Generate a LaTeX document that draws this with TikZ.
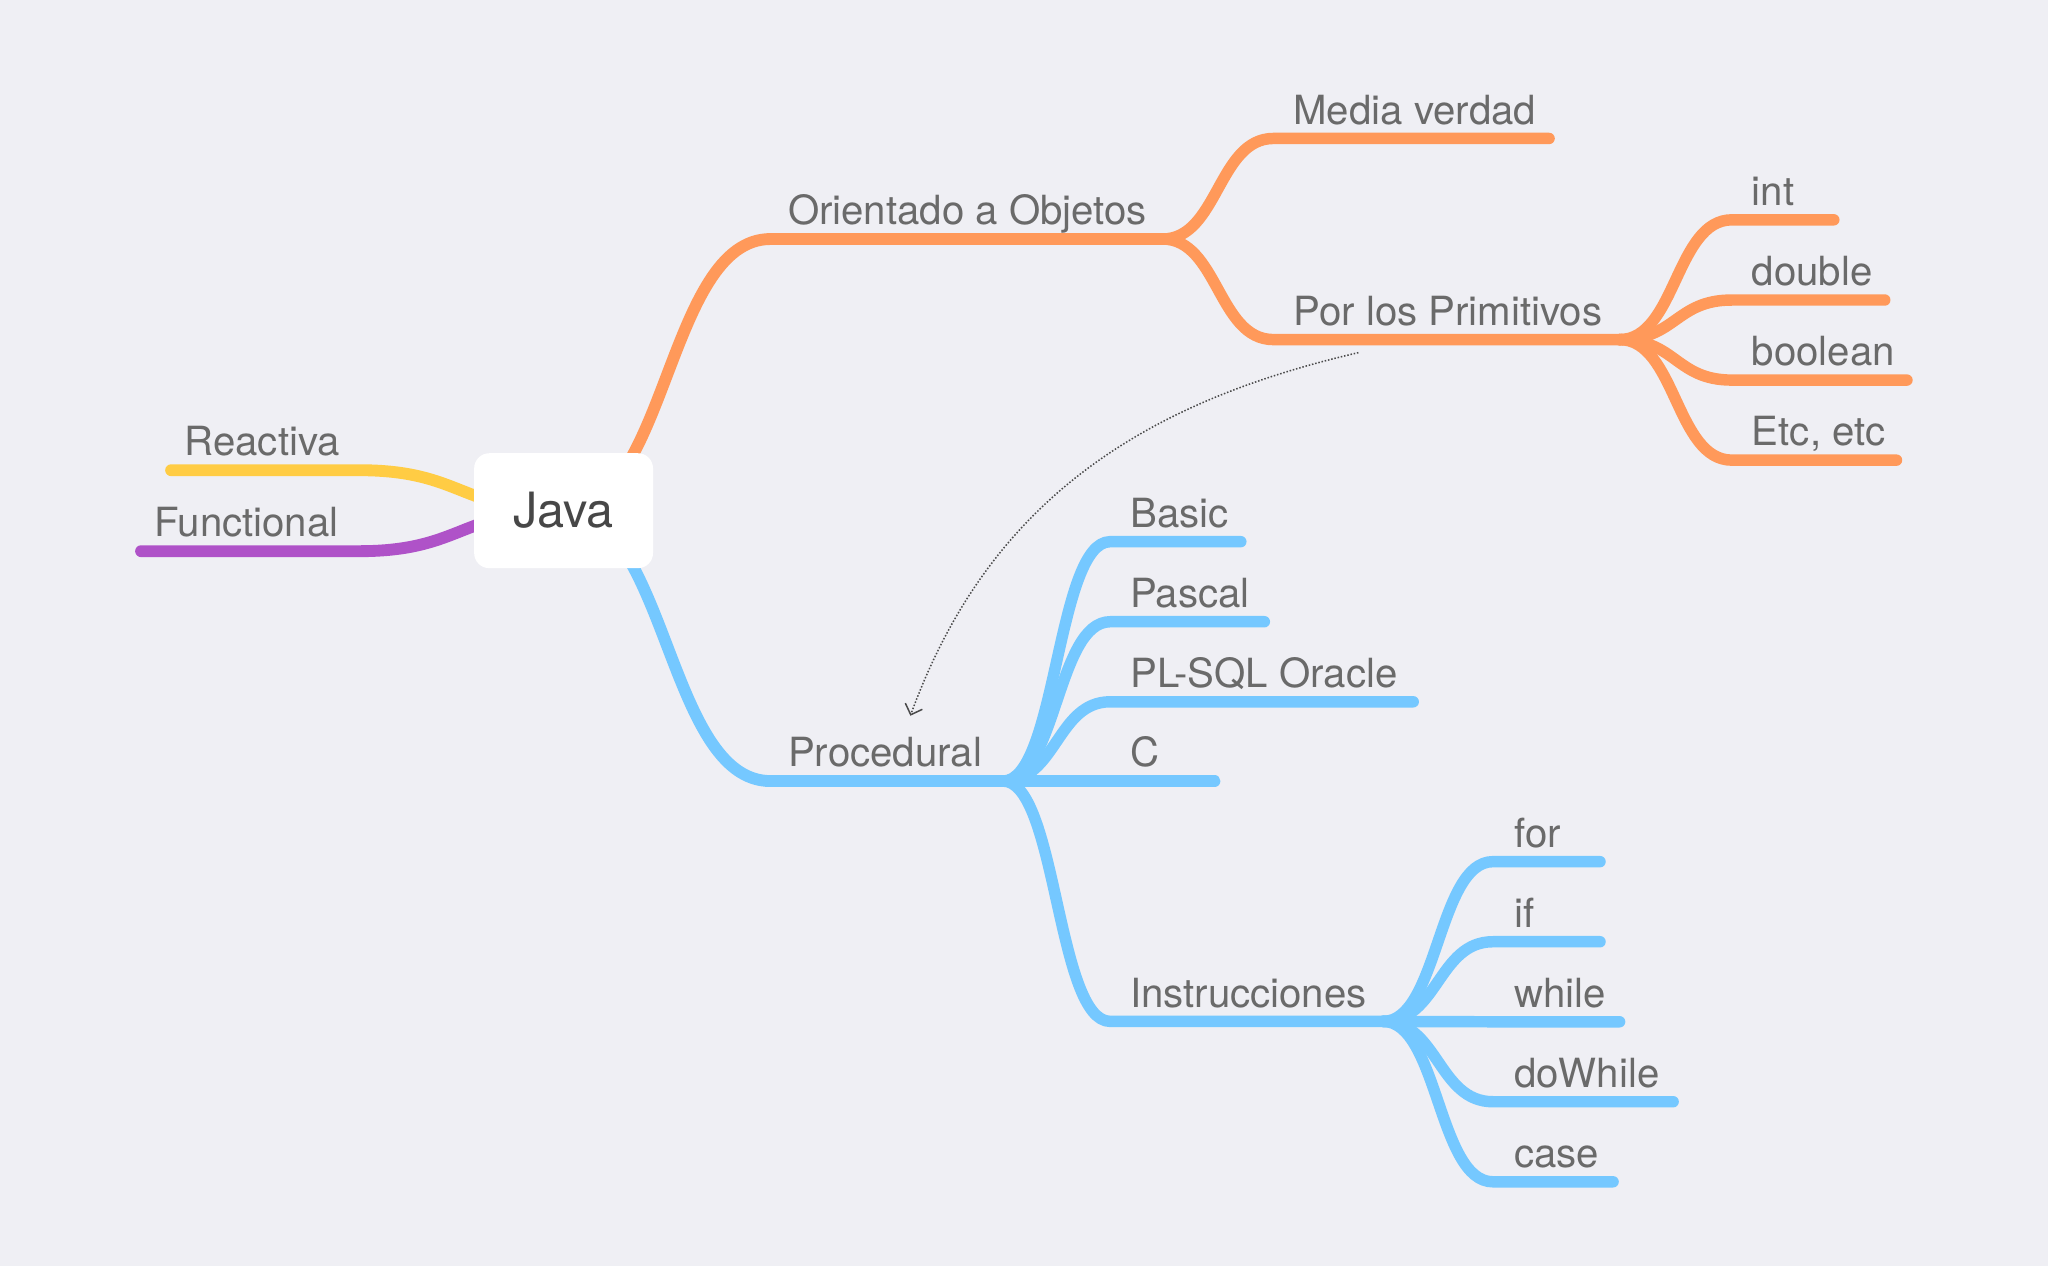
\documentclass[tikz,border=0pt]{standalone}
\usepackage{fontspec}
\setmainfont{TeX Gyre Heros}
\usetikzlibrary{arrows.meta}
\definecolor{bgc}{HTML}{EFEFF4}
\definecolor{orangeb}{HTML}{FF995A}
\definecolor{blueb}{HTML}{75C8FF}
\definecolor{yellowb}{HTML}{FFCC44}
\definecolor{purpleb}{HTML}{AF52C8}
\definecolor{lblc}{HTML}{6A6A6A}
\definecolor{jtxt}{HTML}{474747}
\definecolor{arrc}{HTML}{4A4A4A}
\begin{document}
\begin{tikzpicture}[x=0.65pt,y=-0.65pt,
  br/.style={line width=5.7pt,line cap=round,line join=round},
  mainbr/.style={br,line width=5.9pt},
  lab/.style={anchor=base west,inner sep=0pt,text=lblc,font=\fontsize{20pt}{24pt}\selectfont},
  jbox/.style={fill=white,rounded corners=7.5pt,minimum width=89pt,minimum height=57.2pt,inner sep=0pt,text=jtxt,font=\fontsize{24.2pt}{28pt}\selectfont},
  dotarrow/.style={draw=arrc,line width=0.75pt,dash pattern=on 0.75pt off 0.9pt,-{Straight Barb[length=4.5pt,width=9pt,line width=0.75pt]}}
]
\fill[bgc] (0,0) rectangle (1568,969);
\useasboundingbox (0,0) rectangle (1568,969);

% coordinates
\coordinate (J) at (431.5,391);
% orange
\coordinate (ooS) at (590,183);
\coordinate (ooF) at (890,183);
\coordinate (mvS) at (975,106);
\coordinate (mvE) at (1186,106);
\coordinate (ppS) at (975,260);
\coordinate (ppF) at (1240,260);
\coordinate (intS) at (1326,168.3);
\coordinate (intE) at (1404,168.3);
\coordinate (dblS) at (1326,229.7);
\coordinate (dblE) at (1443,229.7);
\coordinate (booS) at (1326,291);
\coordinate (booE) at (1460,291);
\coordinate (etcS) at (1326,352.3);
\coordinate (etcE) at (1452,352.3);
% blue
\coordinate (prS) at (590,598);
\coordinate (prF) at (768,598);
\coordinate (basS) at (850,414.7);
\coordinate (basE) at (950,414.7);
\coordinate (pasS) at (850,476);
\coordinate (pasE) at (968,476);
\coordinate (plsS) at (850,537.3);
\coordinate (plsE) at (1082,537.3);
\coordinate (cE) at (930,598);
\coordinate (insS) at (850,782);
\coordinate (insF) at (1059,782);
\coordinate (forS) at (1143,659.7);
\coordinate (forE) at (1225,659.7);
\coordinate (ifS) at (1143,721);
\coordinate (ifE) at (1225,721);
\coordinate (whS) at (1143,782.3);
\coordinate (whE) at (1240,782.3);
\coordinate (dwS) at (1143,843.5);
\coordinate (dwE) at (1281,843.5);
\coordinate (caS) at (1143,904.8);
\coordinate (caE) at (1235,904.8);
% left
\coordinate (reS) at (275,360);
\coordinate (reE) at (131,360);
\coordinate (fuS) at (275,422);
\coordinate (fuE) at (108,422);
% dotted arrow ends
\coordinate (arrS) at (1040,270);
\coordinate (arrE) at (697,548);

% left branches
\draw[mainbr,yellowb] (J) to[out=180,in=0,distance=50.9pt] (reS) -- (reE);
\draw[mainbr,purpleb] (J) to[out=180,in=0,distance=50.9pt] (fuS) -- (fuE);

% orange branch
\draw[mainbr,orangeb] (J) to[out=0,in=180,distance=51.5pt] (ooS) -- (ooF);
\draw[br,orangeb] (ooF) to[out=0,in=180,distance=27.6pt] (mvS) -- (mvE);
\draw[br,orangeb] (ooF) to[out=0,in=180,distance=27.6pt] (ppS) -- (ppF);
\draw[br,orangeb] (ppF) to[out=0,in=180,distance=28pt] (intS) -- (intE);
\draw[br,orangeb] (ppF) to[out=0,in=180,distance=28pt] (dblS) -- (dblE);
\draw[br,orangeb] (ppF) to[out=0,in=180,distance=28pt] (booS) -- (booE);
\draw[br,orangeb] (ppF) to[out=0,in=180,distance=28pt] (etcS) -- (etcE);

% blue branch
\draw[mainbr,blueb] (J) to[out=0,in=180,distance=51.5pt] (prS) -- (prF);
\draw[br,blueb] (prF) to[out=0,in=180,distance=26.6pt] (basS) -- (basE);
\draw[br,blueb] (prF) to[out=0,in=180,distance=26.6pt] (pasS) -- (pasE);
\draw[br,blueb] (prF) to[out=0,in=180,distance=26.6pt] (plsS) -- (plsE);
\draw[br,blueb] (prF) -- (cE);
\draw[br,blueb] (prF) to[out=0,in=180,distance=26.6pt] (insS) -- (insF);
\draw[br,blueb] (insF) to[out=0,in=180,distance=27.3pt] (forS) -- (forE);
\draw[br,blueb] (insF) to[out=0,in=180,distance=27.3pt] (ifS) -- (ifE);
\draw[br,blueb] (insF) to[out=0,in=180,distance=27.3pt] (whS) -- (whE);
\draw[br,blueb] (insF) to[out=0,in=180,distance=27.3pt] (dwS) -- (dwE);
\draw[br,blueb] (insF) to[out=0,in=180,distance=27.3pt] (caS) -- (caE);

% central node
\node[jbox] (java) at (J) {Java};

% labels
\node[lab] (tRe) at (141,349) {Reactiva};
\node[lab] (tFu) at (118,411) {Functional};
\node[lab] (tOO) at (603,172) {Orientado a Objetos};
\node[lab] (tMV) at (990,95) {Media verdad};
\node[lab] (tPP) at (990,249) {Por los Primitivos};
\node[lab] (tInt) at (1341,157.5) {int};
\node[lab] (tDbl) at (1341,218.7) {double};
\node[lab] (tBoo) at (1341,280) {boolean};
\node[lab] (tEtc) at (1341,341.3) {Etc, etc};
\node[lab] (tPr) at (603,587) {Procedural};
\node[lab] (tBas) at (865,403.7) {Basic};
\node[lab] (tPas) at (865,465) {Pascal};
\node[lab] (tPls) at (865,526.3) {PL-SQL Oracle};
\node[lab] (tC) at (865,587) {C};
\node[lab] (tIns) at (865,771) {Instrucciones};
\node[lab] (tFor) at (1159,648.7) {for};
\node[lab] (tIf) at (1159,710) {if};
\node[lab] (tWh) at (1159,771.3) {while};
\node[lab] (tDw) at (1159,832.5) {doWhile};
\node[lab] (tCa) at (1159,893.8) {case};

% dotted relation arrow
\draw[dotarrow] (arrS) to[out=193,in=70] (arrE);
\end{tikzpicture}
\end{document}
